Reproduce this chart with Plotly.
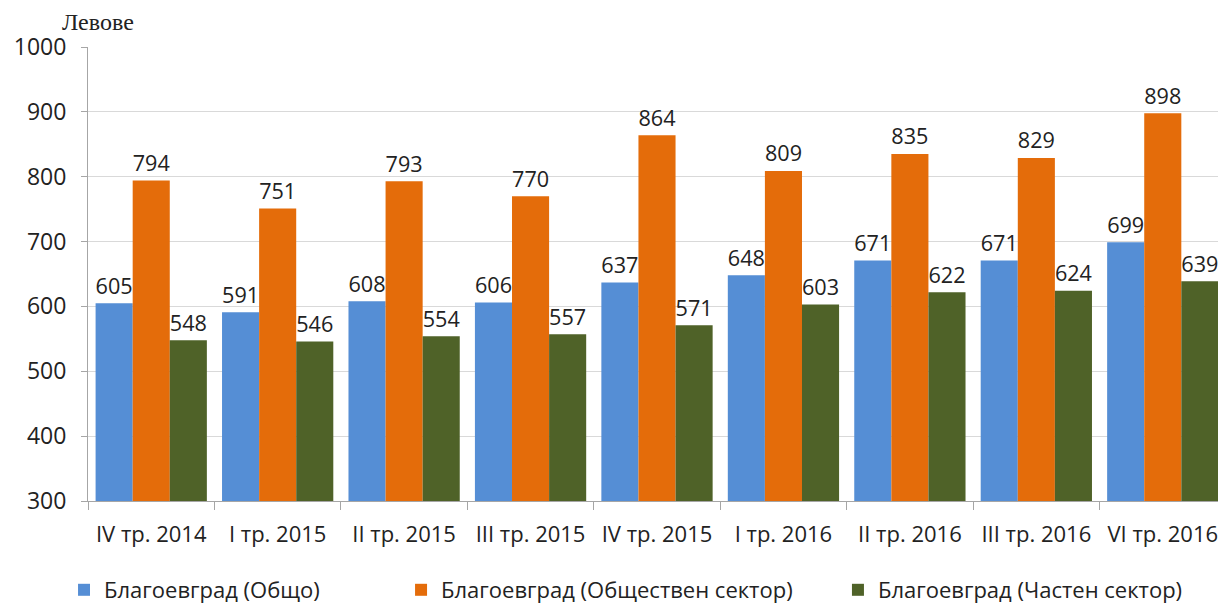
import plotly.graph_objects as go

categories = ["IV тр. 2014", "I тр. 2015", "II тр. 2015", "III тр. 2015", "IV тр. 2015",
              "I тр. 2016", "II тр. 2016", "III тр. 2016", "VI тр. 2016"]
total = [605, 591, 608, 606, 637, 648, 671, 671, 699]
public = [794, 751, 793, 770, 864, 809, 835, 829, 898]
private = [548, 546, 554, 557, 571, 603, 622, 624, 639]

names = ["Благоевград (Общо)", "Благоевград (Обществен сектор)", "Благоевград (Частен сектор)"]
colors = ["#558ED5", "#E46C0A", "#4F6228"]
series = [total, public, private]

font_family = "Open Sans, Noto Sans, sans-serif"
legend_ids = ["legend", "legend2", "legend3"]
legend_x = [0.046, 0.3227, 0.6814]

fig = go.Figure()
for name, vals, col, lid in zip(names, series, colors, legend_ids):
    fig.add_trace(go.Bar(
        x=categories, y=vals, name=name, legend=lid, showlegend=True,
        marker=dict(color=col, line=dict(width=0)),
        text=[str(v) for v in vals], textposition="outside",
        textfont=dict(size=23, color="#222222", family=font_family),
        cliponaxis=False,
    ))

legend_common = dict(orientation="h", xanchor="left", xref="container", yref="container",
                     y=0.0235, yanchor="middle", font=dict(size=22), itemwidth=30,
                     bgcolor="rgba(0,0,0,0)", visible=True)

# page body has an 8px margin, so the figure is sized/offset accordingly
fig.update_layout(
    width=1218, height=596, showlegend=True,
    barmode="group", bargap=0.12, bargroupgap=0,
    plot_bgcolor="white", paper_bgcolor="white",
    margin=dict(l=80, r=0, t=39, b=103, autoexpand=False),
    font=dict(family=font_family, size=23, color="#222222"),
    legend=dict(x=legend_x[0], **legend_common),
    legend2=dict(x=legend_x[1], **legend_common),
    legend3=dict(x=legend_x[2], **legend_common),
)
fig.add_annotation(text="Левове", xref="paper", yref="paper", x=-0.0246, y=1.0, yshift=25,
                   xanchor="left", yanchor="middle", showarrow=False,
                   font=dict(family="Liberation Serif, Times New Roman, serif", size=24, color="#222222"))

fig.update_yaxes(range=[300, 1000], dtick=100, showgrid=True, gridcolor="#D9D9D9", gridwidth=1,
                 showline=True, linecolor="#A6A6A6", ticks="outside", ticklen=6, tickcolor="#A6A6A6",
                 tickfont=dict(size=23), zeroline=False, automargin=False, ticklabelstandoff=10)
fig.update_xaxes(showline=True, linecolor="#A6A6A6", ticks="outside", ticklen=8, tickcolor="#A6A6A6",
                 tickson="boundaries", tickfont=dict(size=22), tickangle=0, automargin=False,
                 ticklabelstandoff=14)

fig.write_html("out.html")
